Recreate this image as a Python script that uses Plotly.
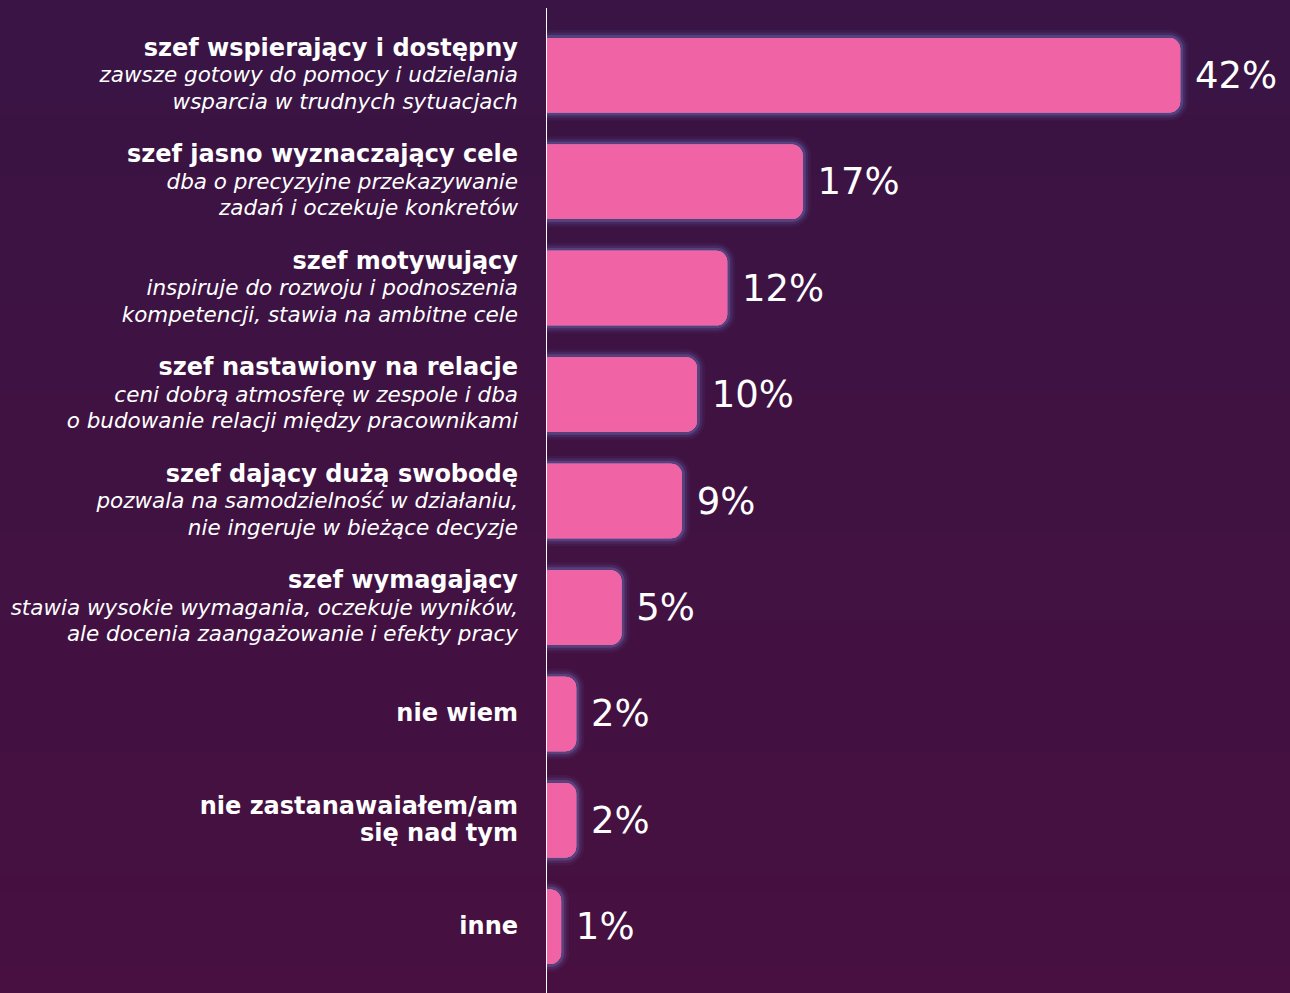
import base64, struct, zlib
import plotly.graph_objects as go

titles = [
    "szef wspierający i dostępny",
    "szef jasno wyznaczający cele",
    "szef motywujący",
    "szef nastawiony na relacje",
    "szef dający dużą swobodę",
    "szef wymagający",
    "nie wiem",
    "nie zastanawaiałem/am<br>się nad tym",
    "inne",
]
descriptions = [
    ["zawsze gotowy do pomocy i udzielania", "wsparcia w trudnych sytuacjach"],
    ["dba o precyzyjne przekazywanie", "zadań i oczekuje konkretów"],
    ["inspiruje do rozwoju i podnoszenia", "kompetencji, stawia na ambitne cele"],
    ["ceni dobrą atmosferę w zespole i dba", "o budowanie relacji między pracownikami"],
    ["pozwala na samodzielność w działaniu,", "nie ingeruje w bieżące decyzje"],
    ["stawia wysokie wymagania, oczekuje wyników,", "ale docenia zaangażowanie i efekty pracy"],
    [],
    [],
    [],
]
values = [42, 17, 12, 10, 9, 5, 2, 2, 1]

PINK = "#f063a4"
BG_TOP = (57, 20, 68)
BG_BOT = (71, 16, 64)

# ---- gradient background as an inline PNG ----
def gradient_png(h=200):
    rows = []
    for i in range(h):
        t = i / (h - 1)
        c = bytes(int(round(BG_TOP[k] + (BG_BOT[k] - BG_TOP[k]) * t)) for k in range(3))
        rows.append(b"\x00" + c * 2)
    raw = b"".join(rows)
    def chunk(tag, data):
        return struct.pack(">I", len(data)) + tag + data + struct.pack(">I", zlib.crc32(tag + data) & 0xffffffff)
    png = b"\x89PNG\r\n\x1a\n"
    png += chunk(b"IHDR", struct.pack(">IIBBBBB", 2, h, 8, 2, 0, 0, 0))
    png += chunk(b"IDAT", zlib.compress(raw))
    png += chunk(b"IEND", b"")
    return "data:image/png;base64," + base64.b64encode(png).decode()

# ---- category labels ----
TS = "<span style='font-size:24px'><b>"
cats = []
for t, d in zip(titles, descriptions):
    lines = [TS + part + "</b></span>" for part in t.split("<br>")]
    lines += ["<span style='font-size:21.5px'><i>" + s + "</i></span>" for s in d]
    cats.append("<br>".join(lines))

W, H = 1290, 993
ML, MR, MT, MB = 546, 0, 22, 13
pw, ph = W - ML - MR, H - MT - MB
xmax = pw / 15.1

fig = go.Figure()
glows = [(16, "rgba(110,130,215,0.07)"), (11, "rgba(120,140,220,0.12)"), (6, "rgba(140,160,235,0.22)")]
for lw, col in glows:
    fig.add_trace(go.Bar(
        y=cats, x=values, orientation="h", width=0.70,
        marker=dict(color=PINK, line=dict(color=col, width=lw)),
        hoverinfo="skip", showlegend=False,
    ))
fig.add_trace(go.Bar(
    y=cats, x=values, orientation="h", width=0.70,
    marker=dict(color=PINK, line=dict(width=0)),
    texttemplate="\u00a0%{x}%", textposition="outside", cliponaxis=False,
    textfont=dict(family="DejaVu Sans", size=37, color="white"),
    hoverinfo="skip", showlegend=False,
))

fig.update_layout(
    width=W, height=H,
    margin=dict(l=ML, r=MR, t=MT, b=MB),
    paper_bgcolor="rgb(64,18,66)",
    plot_bgcolor="rgba(0,0,0,0)",
    barmode="overlay",
    barcornerradius=11,
    showlegend=False,
    xaxis=dict(range=[0, xmax], visible=False, fixedrange=True),
    yaxis=dict(
        autorange="reversed", type="category",
        showgrid=False, zeroline=False, showline=False, ticks="",
        ticklabelstandoff=27,
        tickfont=dict(family="DejaVu Sans", size=20.5, color="white"),
    ),
    images=[dict(
        source=gradient_png(), xref="paper", yref="paper",
        x=-ML / pw - 0.01, y=1 + MT / ph + 0.01,
        sizex=1 + ML / pw + MR / pw + 0.02, sizey=1 + (MT + MB) / ph + 0.02,
        sizing="stretch", layer="below", xanchor="left", yanchor="top",
    )],
    shapes=[dict(
        type="line", xref="x", yref="paper", x0=0, x1=0,
        y0=-MB / ph - 0.01, y1=1 + (MT - 8) / ph,
        line=dict(color="white", width=2), layer="above",
    )],
)

fig.write_html(
    "out.html",
    config={"displayModeBar": False},
    post_script="document.body.style.margin='0';document.body.style.padding='0';",
)
